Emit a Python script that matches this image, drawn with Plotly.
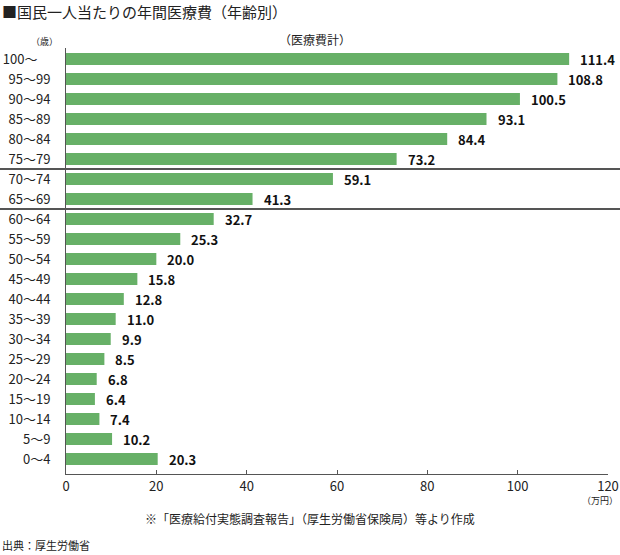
import plotly.graph_objects as go

categories = ["0～4", "5～9", "10～14", "15～19", "20～24", "25～29", "30～34", "35～39",
              "40～44", "45～49", "50～54", "55～59", "60～64", "65～69", "70～74",
              "75～79", "80～84", "85～89", "90～94", "95～99", "100～"]
values = [20.3, 10.2, 7.4, 6.4, 6.8, 8.5, 9.9, 11.0, 12.8, 15.8, 20.0, 25.3, 32.7,
          41.3, 59.1, 73.2, 84.4, 93.1, 100.5, 108.8, 111.4]
x_ticks = [0, 20, 40, 60, 80, 100, 120]

FONT = "Noto Sans CJK JP"
n = len(categories)
idx = list(range(n))
# the open-ended top label sits slightly left in the reference
ticktext = [c + "\u3000" if c.endswith("～") else c for c in categories]

fig = go.Figure()
fig.add_trace(go.Bar(
    y=idx, x=values, orientation="h",
    marker=dict(color="#67b067", line=dict(width=0)),
    width=0.6, showlegend=False, hoverinfo="skip",
))

for i, v in zip(idx, values):
    fig.add_annotation(x=v, y=i, xref="x", yref="y", text=f"<b>{v:.1f}</b>",
                       showarrow=False, xanchor="left", xshift=9,
                       font=dict(family=FONT, size=13, color="#111"))

# separators between age groups
seps = [categories.index("65～69") - 0.5, categories.index("75～79") - 0.5]
for s in seps:
    fig.add_shape(type="line", xref="paper", yref="y", x0=-0.125, x1=1.03, y0=s, y1=s,
                  line=dict(color="#555", width=2))

fig.update_layout(
    width=620, height=555,
    margin=dict(l=66, r=12, t=48, b=81),
    paper_bgcolor="white", plot_bgcolor="white",
    font=dict(family=FONT, size=13, color="#222"),
)
fig.update_xaxes(range=[0, 120], tickvals=x_ticks, ticks="inside", ticklen=4,
                 tickcolor="#555", showline=True, linecolor="#555", linewidth=1,
                 showgrid=False, zeroline=False, automargin=False,
                 tickfont=dict(size=13, color="#222"))
fig.update_yaxes(range=[-0.75, n - 0.45], tickvals=idx, ticktext=ticktext,
                 ticks="", showline=True, linecolor="#555", linewidth=1,
                 showgrid=False, zeroline=False, ticklabelstandoff=12, automargin=False,
                 tickfont=dict(size=13, color="#222"))

fig.add_annotation(xref="paper", yref="paper", x=-0.121, y=1.0, yshift=48 - 11,
                   text="■国民一人当たりの年間医療費（年齢別）", showarrow=False,
                   xanchor="left", yanchor="middle", font=dict(family=FONT, size=15, color="#222"))
fig.add_annotation(xref="paper", yref="paper", x=0.46, y=1.0, yshift=9,
                   text="（医療費計）", showarrow=False, xanchor="center", yanchor="middle",
                   font=dict(family=FONT, size=12, color="#222"))
fig.add_annotation(xref="paper", yref="paper", x=-0.04, y=1.0, yshift=7,
                   text="（歳）", showarrow=False, xanchor="center", yanchor="middle",
                   font=dict(family=FONT, size=9, color="#222"))
fig.add_annotation(xref="paper", yref="paper", x=0.985, y=0, yshift=-26,
                   text="（万円）", showarrow=False, xanchor="center", yanchor="middle",
                   font=dict(family=FONT, size=9, color="#222"))
fig.add_annotation(xref="paper", yref="paper", x=0.45, y=0, yshift=-44,
                   text="※「医療給付実態調査報告」（厚生労働省保険局）等より作成", showarrow=False,
                   xanchor="center", yanchor="middle", font=dict(family=FONT, size=12, color="#222"))
fig.add_annotation(xref="paper", yref="paper", x=-0.121, y=0, yshift=-71,
                   text="出典：厚生労働省", showarrow=False,
                   xanchor="left", yanchor="middle", font=dict(family=FONT, size=11, color="#222"))

fig.write_html("out.html", config={"displayModeBar": False},
               post_script="document.body.style.margin='0';document.body.style.padding='0';")
